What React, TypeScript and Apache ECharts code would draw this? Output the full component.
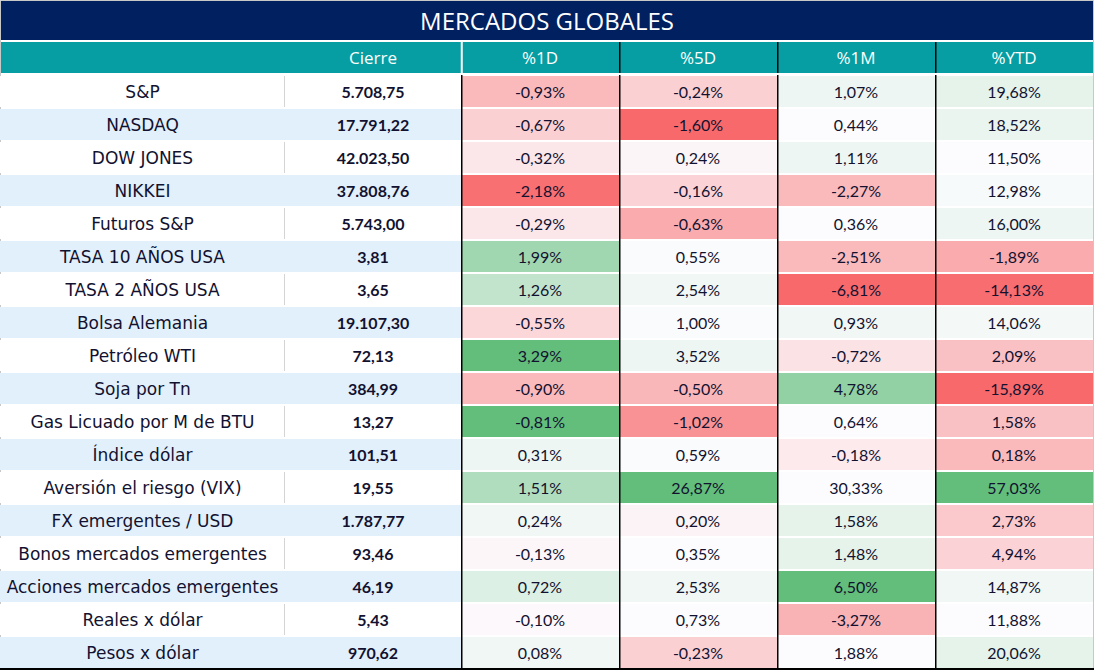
import React, { useEffect, useRef } from "react";
import * as echarts from "echarts";

const title = "MERCADOS GLOBALES";
const rows = [
  "S&P", "NASDAQ", "DOW JONES", "NIKKEI", "Futuros S&P", "TASA 10 AÑOS USA", "TASA 2 AÑOS USA",
  "Bolsa Alemania", "Petróleo WTI", "Soja por Tn", "Gas Licuado por M de BTU", "Índice dólar",
  "Aversión el riesgo (VIX)", "FX emergentes / USD", "Bonos mercados emergentes",
  "Acciones mercados emergentes", "Reales x dólar", "Pesos x dólar",
];
const closeHeader = ["Cierre"];
const close = [5708.75, 17791.22, 42023.5, 37808.76, 5743.0, 3.81, 3.65, 19107.3, 72.13, 384.99, 13.27, 101.51, 19.55, 1787.77, 93.46, 46.19, 5.43, 970.62];
const pctCols = ["%1D", "%5D", "%1M", "%YTD"];
const pct1D = [-0.93, -0.67, -0.32, -2.18, -0.29, 1.99, 1.26, -0.55, 3.29, -0.9, -0.81, 0.31, 1.51, 0.24, -0.13, 0.72, -0.1, 0.08];
const pct5D = [-0.24, -1.6, 0.24, -0.16, -0.63, 0.55, 2.54, 1.0, 3.52, -0.5, -1.02, 0.59, 26.87, 0.2, 0.35, 2.53, 0.73, -0.23];
const pct1M = [1.07, 0.44, 1.11, -2.27, 0.36, -2.51, -6.81, 0.93, -0.72, 4.78, 0.64, -0.18, 30.33, 1.58, 1.48, 6.5, -3.27, 1.88];
const pctYTD = [19.68, 18.52, 11.5, 12.98, 16.0, -1.89, -14.13, 14.06, 2.09, -15.89, 1.58, 0.18, 57.03, 2.73, 4.94, 14.87, 11.88, 20.06];
// conditional-formatting score of each cell (-1 red … 0 white … 1 green)
const heat1D = [-0.45, -0.3, -0.15, -0.95, -0.15, 0.6, 0.38, -0.25, 1, -0.45, 1, 0.1, 0.5, 0.08, -0.04, 0.2, -0.03, 0.08];
const heat5D = [-0.3, -1, -0.05, -0.28, -0.55, 0.02, 0.08, 0.02, 0.1, -0.47, -0.72, 0.02, 1, -0.06, 0, 0.08, 0, -0.3];
const heat1M = [0.1, 0, 0.1, -0.45, 0, -0.45, -1, 0.08, -0.18, 0.7, 0, -0.12, 0, 0.15, 0.15, 1, -0.5, 0];
const heatYTD = [0.15, 0.12, 0, 0.03, 0.1, -0.55, -0.97, 0.05, -0.4, -1, -0.4, -0.45, 1, -0.35, -0.28, 0.08, 0, 0.15];

const pctValues = [pct1D, pct5D, pct1M, pctYTD];
const heatValues = [heat1D, heat5D, heat1M, heatYTD];

const NAVY = "#002060";
const TEAL = "#069EA2";
const BLUE = "#E2F0FC";
const INK = "#121230";
const NAME_FONT = "'DejaVu Sans', sans-serif";
const NUM_FONT = "Lato, 'Open Sans', sans-serif";
const HEAD_FONT = "'Open Sans', Lato, sans-serif";

const W = 1094;
const H = 670;
const TOP = 75;
const ROW_H = 33;
const NAME_W = 285;
const CLOSE_W = 176;
const PCT_W = 158;
const PCT_LEFT = NAME_W + CLOSE_W;

function fmt(v: number): string {
  const neg = v < 0;
  const [ip, dp] = Math.abs(v).toFixed(2).split(".");
  const withSep = ip.replace(/\B(?=(\d{3})+(?!\d))/g, ".");
  return (neg ? "-" : "") + withSep + "," + dp;
}

function plainRenderer(texts: string[], font: string, size: number, weight: string, sep: boolean) {
  return (params: any, api: any) => {
    const r = api.value(1);
    const c = api.coord([api.value(0), r]);
    const s = api.size([1, 1]);
    const x0 = c[0] - s[0] / 2;
    const y0 = c[1] - s[1] / 2;
    const blue = r % 2 === 1;
    const children: any[] = [
      {
        type: "rect",
        shape: { x: x0, y: y0 + 1, width: s[0], height: s[1] - 2 },
        style: { fill: blue ? BLUE : "#ffffff" },
      },
    ];
    if (sep && !blue) {
      children.push({
        type: "line",
        shape: { x1: x0 + s[0] - 0.5, y1: y0 + 1, x2: x0 + s[0] - 0.5, y2: y0 + s[1] - 1 },
        style: { stroke: "#D4D4D4", lineWidth: 1 },
      });
    }
    children.push({
      type: "text",
      style: {
        text: texts[r],
        x: c[0],
        y: c[1],
        align: "center",
        verticalAlign: "middle",
        fill: INK,
        fontSize: size,
        fontFamily: font,
        fontWeight: weight,
      },
    });
    return { type: "group", children };
  };
}

function pctRenderer(params: any, api: any) {
  const col = api.value(0);
  const r = api.value(1);
  const v = api.value(3);
  const c = api.coord([col, r]);
  const s = api.size([1, 1]);
  const x0 = c[0] - s[0] / 2;
  const y0 = c[1] - s[1] / 2;
  return {
    type: "group",
    children: [
      {
        type: "rect",
        shape: { x: x0, y: y0 + 1, width: s[0], height: s[1] - 2 },
        style: { fill: api.visual("color") },
      },
      {
        type: "line",
        shape: { x1: x0 + 0.75, y1: y0, x2: x0 + 0.75, y2: y0 + s[1] },
        style: { stroke: "#000000", lineWidth: 1.5 },
      },
      {
        type: "text",
        style: {
          text: fmt(v) + "%",
          x: c[0],
          y: c[1],
          align: "center",
          verticalAlign: "middle",
          fill: INK,
          fontSize: 16,
          fontFamily: NUM_FONT,
        },
      },
    ],
  };
}

export default function App() {
  const ref = useRef<HTMLDivElement>(null);
  useEffect(() => {
    if (!ref.current) return;
    const chart = echarts.init(ref.current, undefined, { renderer: "svg" });
    const rowIdx = rows.map((_, i) => i);
    const closeTexts = close.map(fmt);
    const pctData: any[] = [];
    pctValues.forEach((col, ci) => {
      col.forEach((v, ri) => pctData.push([ci, ri, heatValues[ci][ri], v]));
    });
    const gridH = rows.length * ROW_H;
    const yAxisBase = {
      type: "category",
      data: rows,
      inverse: true,
      axisLine: { show: false },
      axisTick: { show: false },
      axisLabel: { show: false },
      splitLine: { show: false },
    };
    const headLabel = {
      color: "#ffffff",
      fontSize: 17,
      fontFamily: HEAD_FONT,
      margin: 18,
      verticalAlign: "middle",
    };
    const headerLines: any[] = [];
    pctCols.forEach((_, i) => {
      const x = PCT_LEFT + i * PCT_W;
      headerLines.push({
        type: "line",
        z: -1,
        shape: { x1: x + 0.75, y1: 42, x2: x + 0.75, y2: 73 },
        style: { stroke: i === 0 ? "#ffffff" : "#000000", lineWidth: i === 0 ? 2 : 1.5 },
      });
    });
    chart.setOption({
      animation: false,
      backgroundColor: "#ffffff",
      grid: [
        { left: 0, top: TOP, width: NAME_W, height: gridH },
        { left: NAME_W, top: TOP, width: CLOSE_W, height: gridH },
        { left: PCT_LEFT, top: TOP, width: PCT_W * pctCols.length, height: gridH },
      ],
      xAxis: [
        { type: "category", gridIndex: 0, data: [""], position: "top", axisLine: { show: false }, axisTick: { show: false }, axisLabel: headLabel },
        { type: "category", gridIndex: 1, data: closeHeader, position: "top", axisLine: { show: false }, axisTick: { show: false }, axisLabel: headLabel },
        { type: "category", gridIndex: 2, data: pctCols, position: "top", axisLine: { show: false }, axisTick: { show: false }, axisLabel: headLabel },
      ],
      yAxis: [
        { ...yAxisBase, gridIndex: 0 },
        { ...yAxisBase, gridIndex: 1 },
        { ...yAxisBase, gridIndex: 2 },
      ],
      visualMap: {
        show: false,
        type: "continuous",
        min: -1,
        max: 1,
        dimension: 2,
        seriesIndex: 2,
        inRange: { color: ["#F8696B", "#FCFCFF", "#63BE7B"] },
      },
      graphic: [
        {
          type: "rect",
          z: -2,
          shape: { x: 0.5, y: 0.5, width: W - 1, height: H - 1 },
          style: { fill: "#ffffff", stroke: "#C8C8C8", lineWidth: 1 },
        },
        {
          type: "rect",
          z: -1,
          shape: { x: 1, y: 1, width: W - 2, height: 39 },
          style: { fill: NAVY },
        },
        {
          type: "text",
          z: 1,
          style: {
            text: title,
            x: W / 2,
            y: 20,
            align: "center",
            verticalAlign: "middle",
            fill: "#ffffff",
            fontSize: 24,
            fontFamily: HEAD_FONT,
          },
        },
        {
          type: "rect",
          z: -1,
          shape: { x: 1, y: 42, width: W - 2, height: 31 },
          style: { fill: TEAL },
        },
        ...headerLines,
        {
          type: "line",
          z: 5,
          shape: { x1: 0, y1: 669, x2: W, y2: 669 },
          style: { stroke: "#000000", lineWidth: 2 },
        },
      ],
      series: [
        {
          type: "custom",
          xAxisIndex: 0,
          yAxisIndex: 0,
          data: rowIdx.map((i) => [0, i]),
          renderItem: plainRenderer(rows, NAME_FONT, 17, "normal", true),
        },
        {
          type: "custom",
          xAxisIndex: 1,
          yAxisIndex: 1,
          data: rowIdx.map((i) => [0, i]),
          renderItem: plainRenderer(closeTexts, NUM_FONT, 16, "bold", false),
        },
        {
          type: "custom",
          xAxisIndex: 2,
          yAxisIndex: 2,
          data: pctData,
          encode: { x: 0, y: 1 },
          renderItem: pctRenderer,
        },
      ],
    });
    return () => chart.dispose();
  }, []);
  return <div ref={ref} style={{ position: "absolute", left: 0, top: 0, width: W, height: H }} />;
}
